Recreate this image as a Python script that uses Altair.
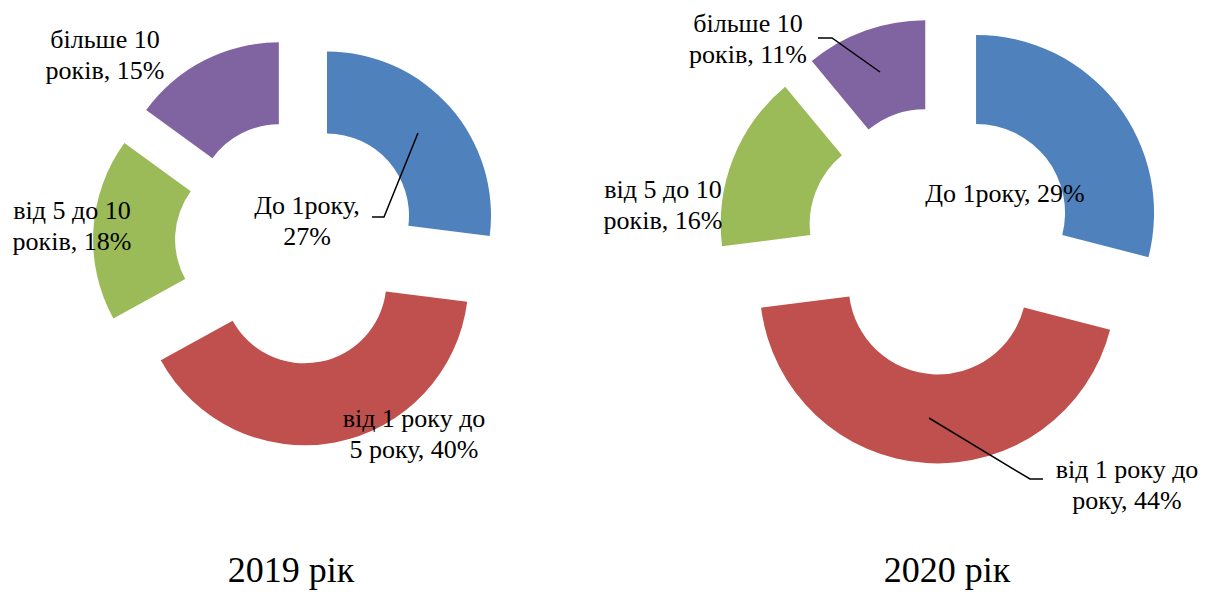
import textwrap

import altair as alt
import pandas as pd

# --- data -------------------------------------------------------------------
CATEGORIES_2019 = ["До 1року", "від 1 року до 5 року", "від 5 до 10 років", "більше 10 років"]
SHARES_2019 = [27, 40, 18, 15]

CATEGORIES_2020 = ["До 1року", "від 1 року до року", "від 5 до 10 років", "більше 10 років"]
SHARES_2020 = [29, 44, 16, 11]

TITLES = ["2019 рік", "2020 рік"]

# --- style / layout ---------------------------------------------------------
W, H = 1214, 592
COLORS = ["#4F81BD", "#C0504D", "#9BBB59", "#8064A2"]
FONT = "Liberation Serif"
LABEL_SIZE = 26
LINE_HEIGHT = 31
TITLE_SIZE = 36

# centre, outer/inner radius and explosion distance of each ring (pixels)
RINGS = [
    dict(cx=297, cy=242, R=164, r=82, E=40),
    dict(cx=940.5, cy=240.5, R=178, r=89, E=45),
]
# label anchor (centre x, first baseline y) and wrap width, per slice
LABEL_SPOTS = [
    [(307, 214, 10), (414, 427, 13), (72, 219, 13), (105, 48, 12)],
    [(1005, 202, 20), (1127, 478, 13), (663, 198, 13), (748, 32, 12)],
]
# leader lines from labels to slices
LEADERS = [
    [(372, 217), (384, 217), (418, 133)],
    [(818, 38), (832, 38), (880, 72)],
    [(929, 418), (1030, 479), (1043, 479)],
]
TITLE_SPOTS = [(291, 582), (947, 582)]

XS = alt.Scale(domain=[0, W], nice=False, zero=False)
YS = alt.Scale(domain=[0, H], nice=False, zero=False, reverse=True)


def ring(categories, shares, geo):
    df = pd.DataFrame({"category": categories, "share": shares,
                       "order": list(range(len(categories)))})
    base = (
        alt.Chart(df)
        .transform_joinaggregate(total="sum(share)")
        .transform_window(cum="sum(share)", sort=[alt.SortField("order")], frame=[None, 0])
        .transform_calculate(
            t0="2 * PI * (datum.cum - datum.share) / datum.total",
            t1="2 * PI * datum.cum / datum.total",
        )
        .transform_calculate(
            px=f"{geo['cx']} + {geo['E']} * sin((datum.t0 + datum.t1) / 2)",
            py=f"{geo['cy']} - {geo['E']} * cos((datum.t0 + datum.t1) / 2)",
        )
    )
    return base.mark_arc(radius=geo["R"], radius2=geo["r"]).encode(
        x=alt.X("px:Q", scale=XS, axis=None),
        y=alt.Y("py:Q", scale=YS, axis=None),
        theta=alt.Theta("t0:Q", scale=None),
        theta2="t1:Q",
        color=alt.Color("order:O", scale=alt.Scale(domain=[0, 1, 2, 3], range=COLORS),
                        legend=None),
        tooltip=["category:N", "share:Q"],
    )


def labels(categories, shares, spots):
    rows = []
    for cat, val, (x, y, wrap) in zip(categories, shares, spots):
        text = "\n".join(textwrap.wrap(f"{cat}, {val}%", width=wrap))
        rows.append({"label": text, "x": x, "y": y})
    return alt.Chart(pd.DataFrame(rows)).mark_text(
        font=FONT, fontSize=LABEL_SIZE, lineHeight=LINE_HEIGHT, lineBreak="\n",
        align="center", baseline="alphabetic", color="black",
    ).encode(
        x=alt.X("x:Q", scale=XS, axis=None),
        y=alt.Y("y:Q", scale=YS, axis=None),
        text="label:N",
    )


leader_rows = [
    {"line": i, "step": j, "x": x, "y": y}
    for i, pts in enumerate(LEADERS)
    for j, (x, y) in enumerate(pts)
]
leaders = alt.Chart(pd.DataFrame(leader_rows)).mark_line(
    color="black", strokeWidth=1.5
).encode(
    x=alt.X("x:Q", scale=XS, axis=None),
    y=alt.Y("y:Q", scale=YS, axis=None),
    detail="line:N",
    order="step:Q",
)

titles = alt.Chart(pd.DataFrame({
    "title": TITLES,
    "x": [p[0] for p in TITLE_SPOTS],
    "y": [p[1] for p in TITLE_SPOTS],
})).mark_text(
    font=FONT, fontSize=TITLE_SIZE, align="center", baseline="alphabetic", color="black"
).encode(
    x=alt.X("x:Q", scale=XS, axis=None),
    y=alt.Y("y:Q", scale=YS, axis=None),
    text="title:N",
)

chart = alt.layer(
    ring(CATEGORIES_2019, SHARES_2019, RINGS[0]),
    ring(CATEGORIES_2020, SHARES_2020, RINGS[1]),
    leaders,
    labels(CATEGORIES_2019, SHARES_2019, LABEL_SPOTS[0]),
    labels(CATEGORIES_2020, SHARES_2020, LABEL_SPOTS[1]),
    titles,
).properties(
    width=W, height=H, padding=0,
    autosize=alt.AutoSizeParams(type="none"),
    background="white",
).configure_view(stroke=None)

chart.save("out.html", embed_options={"renderer": "svg", "actions": False})
